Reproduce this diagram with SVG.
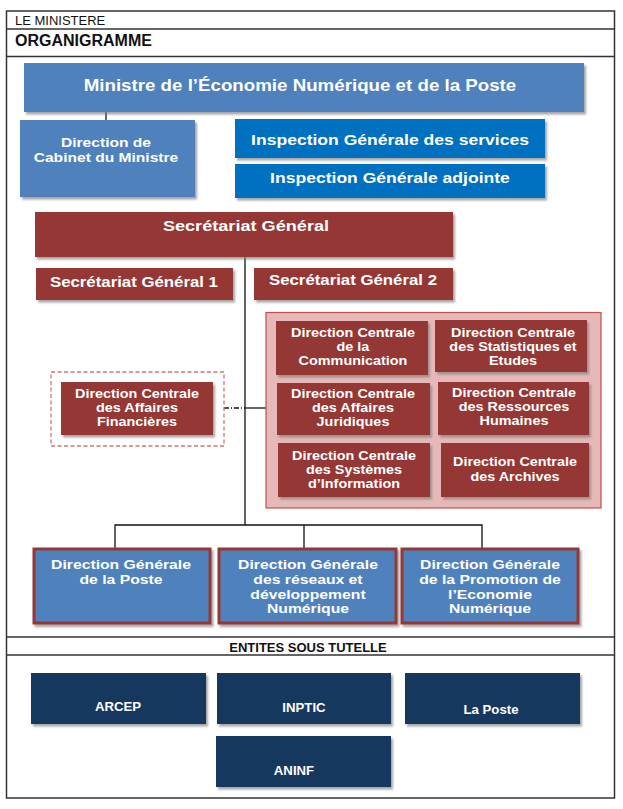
<svg xmlns="http://www.w3.org/2000/svg" width="623" height="809" viewBox="0 0 623 809">
<defs>
<filter id="sh" x="-5%" y="-5%" width="115%" height="125%">
<feDropShadow dx="2" dy="2.5" stdDeviation="1.2" flood-color="#7f7f7f" flood-opacity="0.7"/>
</filter>
<style>
text{font-family:"Liberation Sans",Arial,sans-serif;font-weight:bold;fill:#fff;text-anchor:middle;transform-box:fill-box;transform-origin:center}
.hdr{fill:#111;text-anchor:start}
.blue{fill:#4F81BD;filter:url(#sh)}
.bright{fill:#0070C0;filter:url(#sh)}
.red{fill:#953735;filter:url(#sh)}
.navy{fill:#17375E;filter:url(#sh)}
.dg{fill:#4F81BD;stroke:#953735;stroke-width:3;filter:url(#sh)}
.dc{font-size:12px;transform:scaleX(1.2)}
.dgt{font-size:12.8px;transform:scaleX(1.23)}
.ent{font-size:12px;transform:scaleX(1.1)}
.w17{transform:scaleX(1.17)}
.w12{transform:scaleX(1.2)}
.ln{stroke:#111;stroke-width:1.3;fill:none}
</style>
</defs>
<rect width="623" height="809" fill="#fff"/>
<g id="frame">
<rect x="6.5" y="11" width="608" height="787" fill="none" stroke="#333" stroke-width="1.5"/>
<line x1="6.5" y1="29" x2="614.5" y2="29" stroke="#333" stroke-width="1.5"/>
<line x1="6.5" y1="56.5" x2="614.5" y2="56.5" stroke="#333" stroke-width="1.5"/>
<line x1="6.5" y1="637" x2="614.5" y2="637" stroke="#333" stroke-width="1.5"/>
<line x1="6.5" y1="655" x2="614.5" y2="655" stroke="#333" stroke-width="1.5"/>
<text class="hdr" x="15" y="25" style="font-weight:normal;font-size:13px">LE MINISTERE</text>
<text class="hdr" x="15" y="46" style="font-size:16px">ORGANIGRAMME</text>
<text x="308" y="651.5" style="fill:#111;font-size:13px">ENTITES SOUS TUTELLE</text>
</g>
<g id="connectors">
<line class="ln" x1="106" y1="112" x2="106" y2="120"/>
<line class="ln" x1="245" y1="257" x2="245" y2="525"/>
<line class="ln" x1="245" y1="408" x2="266" y2="408"/>
<line class="ln" x1="224" y1="408" x2="245" y2="408" stroke-dasharray="5,2,1,2"/>
<polyline class="ln" points="115,548 115,525 482,525 482,548"/>
<line class="ln" x1="304" y1="525" x2="304" y2="548"/>
</g>
<g id="ministre">
<rect class="blue" x="24" y="63" width="560" height="49"/>
<text class="w17" x="300" y="91.5" style="font-size:16px">Ministre de l’Économie Numérique et de la Poste</text>
</g>
<g id="cabinet">
<rect class="blue" x="20" y="120" width="175" height="77"/>
<text class="w12" x="106" y="147" style="font-size:13px">Direction de</text>
<text class="w12" x="106" y="162.5" style="font-size:13px">Cabinet du Ministre</text>
</g>
<g id="insp-services">
<rect class="bright" x="235" y="119" width="310" height="39"/>
<text class="w17" x="390" y="145" style="font-size:15px">Inspection Générale des services</text>
</g>
<g id="insp-adjointe">
<rect class="bright" x="235" y="164" width="310" height="34"/>
<text class="w17" x="390" y="183" style="font-size:15px">Inspection Générale adjointe</text>
</g>
<g id="sg">
<rect class="red" x="35" y="212" width="418" height="45"/>
<text class="w17" x="246" y="231.5" style="font-size:15.5px">Secrétariat Général</text>
</g>
<g id="sg1">
<rect class="red" x="36" y="268" width="197" height="32"/>
<text class="w12" x="134" y="287" style="font-size:14px">Secrétariat Général 1</text>
</g>
<g id="sg2">
<rect class="red" x="254" y="268" width="199" height="32"/>
<text class="w12" x="353" y="285.5" style="font-size:14px">Secrétariat Général 2</text>
</g>
<g id="dc-group">
<rect x="266" y="312.5" width="335" height="195.5" fill="#E6B9B8" stroke="#C0504D" stroke-width="1.2"/>
</g>
<g id="dc-communication">
<rect class="red" x="276" y="321" width="152" height="54"/>
<text class="dc" x="353" y="337.5">Direction Centrale</text>
<text class="dc" x="353" y="351.5">de la</text>
<text class="dc" x="353" y="365.5">Communication</text>
</g>
<g id="dc-statistiques">
<rect class="red" x="435" y="320" width="152" height="52"/>
<text class="dc" x="513" y="337.5">Direction Centrale</text>
<text class="dc" x="513" y="351.5">des Statistiques et</text>
<text class="dc" x="513" y="365.5">Etudes</text>
</g>
<g id="dc-juridiques">
<rect class="red" x="277" y="383" width="153" height="52"/>
<text class="dc" x="353" y="398">Direction Centrale</text>
<text class="dc" x="353" y="412">des Affaires</text>
<text class="dc" x="353" y="426">Juridiques</text>
</g>
<g id="dc-rh">
<rect class="red" x="438" y="382" width="151" height="53"/>
<text class="dc" x="514" y="397">Direction Centrale</text>
<text class="dc" x="514" y="411">des Ressources</text>
<text class="dc" x="514" y="425">Humaines</text>
</g>
<g id="dc-systemes">
<rect class="red" x="278" y="443" width="152" height="54"/>
<text class="dc" x="354" y="460">Direction Centrale</text>
<text class="dc" x="354" y="474">des Systèmes</text>
<text class="dc" x="354" y="488">d’Information</text>
</g>
<g id="dc-archives">
<rect class="red" x="441" y="443" width="148" height="54"/>
<text class="dc" x="515" y="466">Direction Centrale</text>
<text class="dc" x="515" y="481.5">des Archives</text>
</g>
<g id="dc-financieres">
<rect x="51" y="372" width="173" height="74" fill="none" stroke="#D27573" stroke-width="1.3" stroke-dasharray="4,2.5"/>
<rect class="red" x="61" y="382" width="152" height="53"/>
<text class="dc" x="137" y="398">Direction Centrale</text>
<text class="dc" x="137" y="412">des Affaires</text>
<text class="dc" x="137" y="426.5">Financières</text>
</g>
<g id="dg-poste">
<rect class="dg" x="34" y="549" width="176" height="74"/>
<text class="dgt" x="121" y="569">Direction Générale</text>
<text class="dgt" x="121" y="583.8">de la Poste</text>
</g>
<g id="dg-reseaux">
<rect class="dg" x="219" y="549" width="177" height="74"/>
<text class="dgt" x="308" y="569">Direction Générale</text>
<text class="dgt" x="308" y="583.8">des réseaux et</text>
<text class="dgt" x="308" y="598.6">développement</text>
<text class="dgt" x="308" y="613.4">Numérique</text>
</g>
<g id="dg-promotion">
<rect class="dg" x="402" y="549" width="176" height="74"/>
<text class="dgt" x="490" y="569">Direction Générale</text>
<text class="dgt" x="490" y="583.8">de la Promotion de</text>
<text class="dgt" x="490" y="598.6">l’Economie</text>
<text class="dgt" x="490" y="613.4">Numérique</text>
</g>
<g id="arcep">
<rect class="navy" x="31" y="673" width="175" height="51"/>
<text class="ent" x="118" y="711">ARCEP</text>
</g>
<g id="inptic">
<rect class="navy" x="217" y="673" width="174" height="51"/>
<text class="ent" x="304" y="712">INPTIC</text>
</g>
<g id="laposte">
<rect class="navy" x="405" y="673" width="175" height="51"/>
<text class="ent" x="491" y="714">La Poste</text>
</g>
<g id="aninf">
<rect class="navy" x="216" y="736" width="175" height="51"/>
<text class="ent" x="294" y="775">ANINF</text>
</g>
</svg>
